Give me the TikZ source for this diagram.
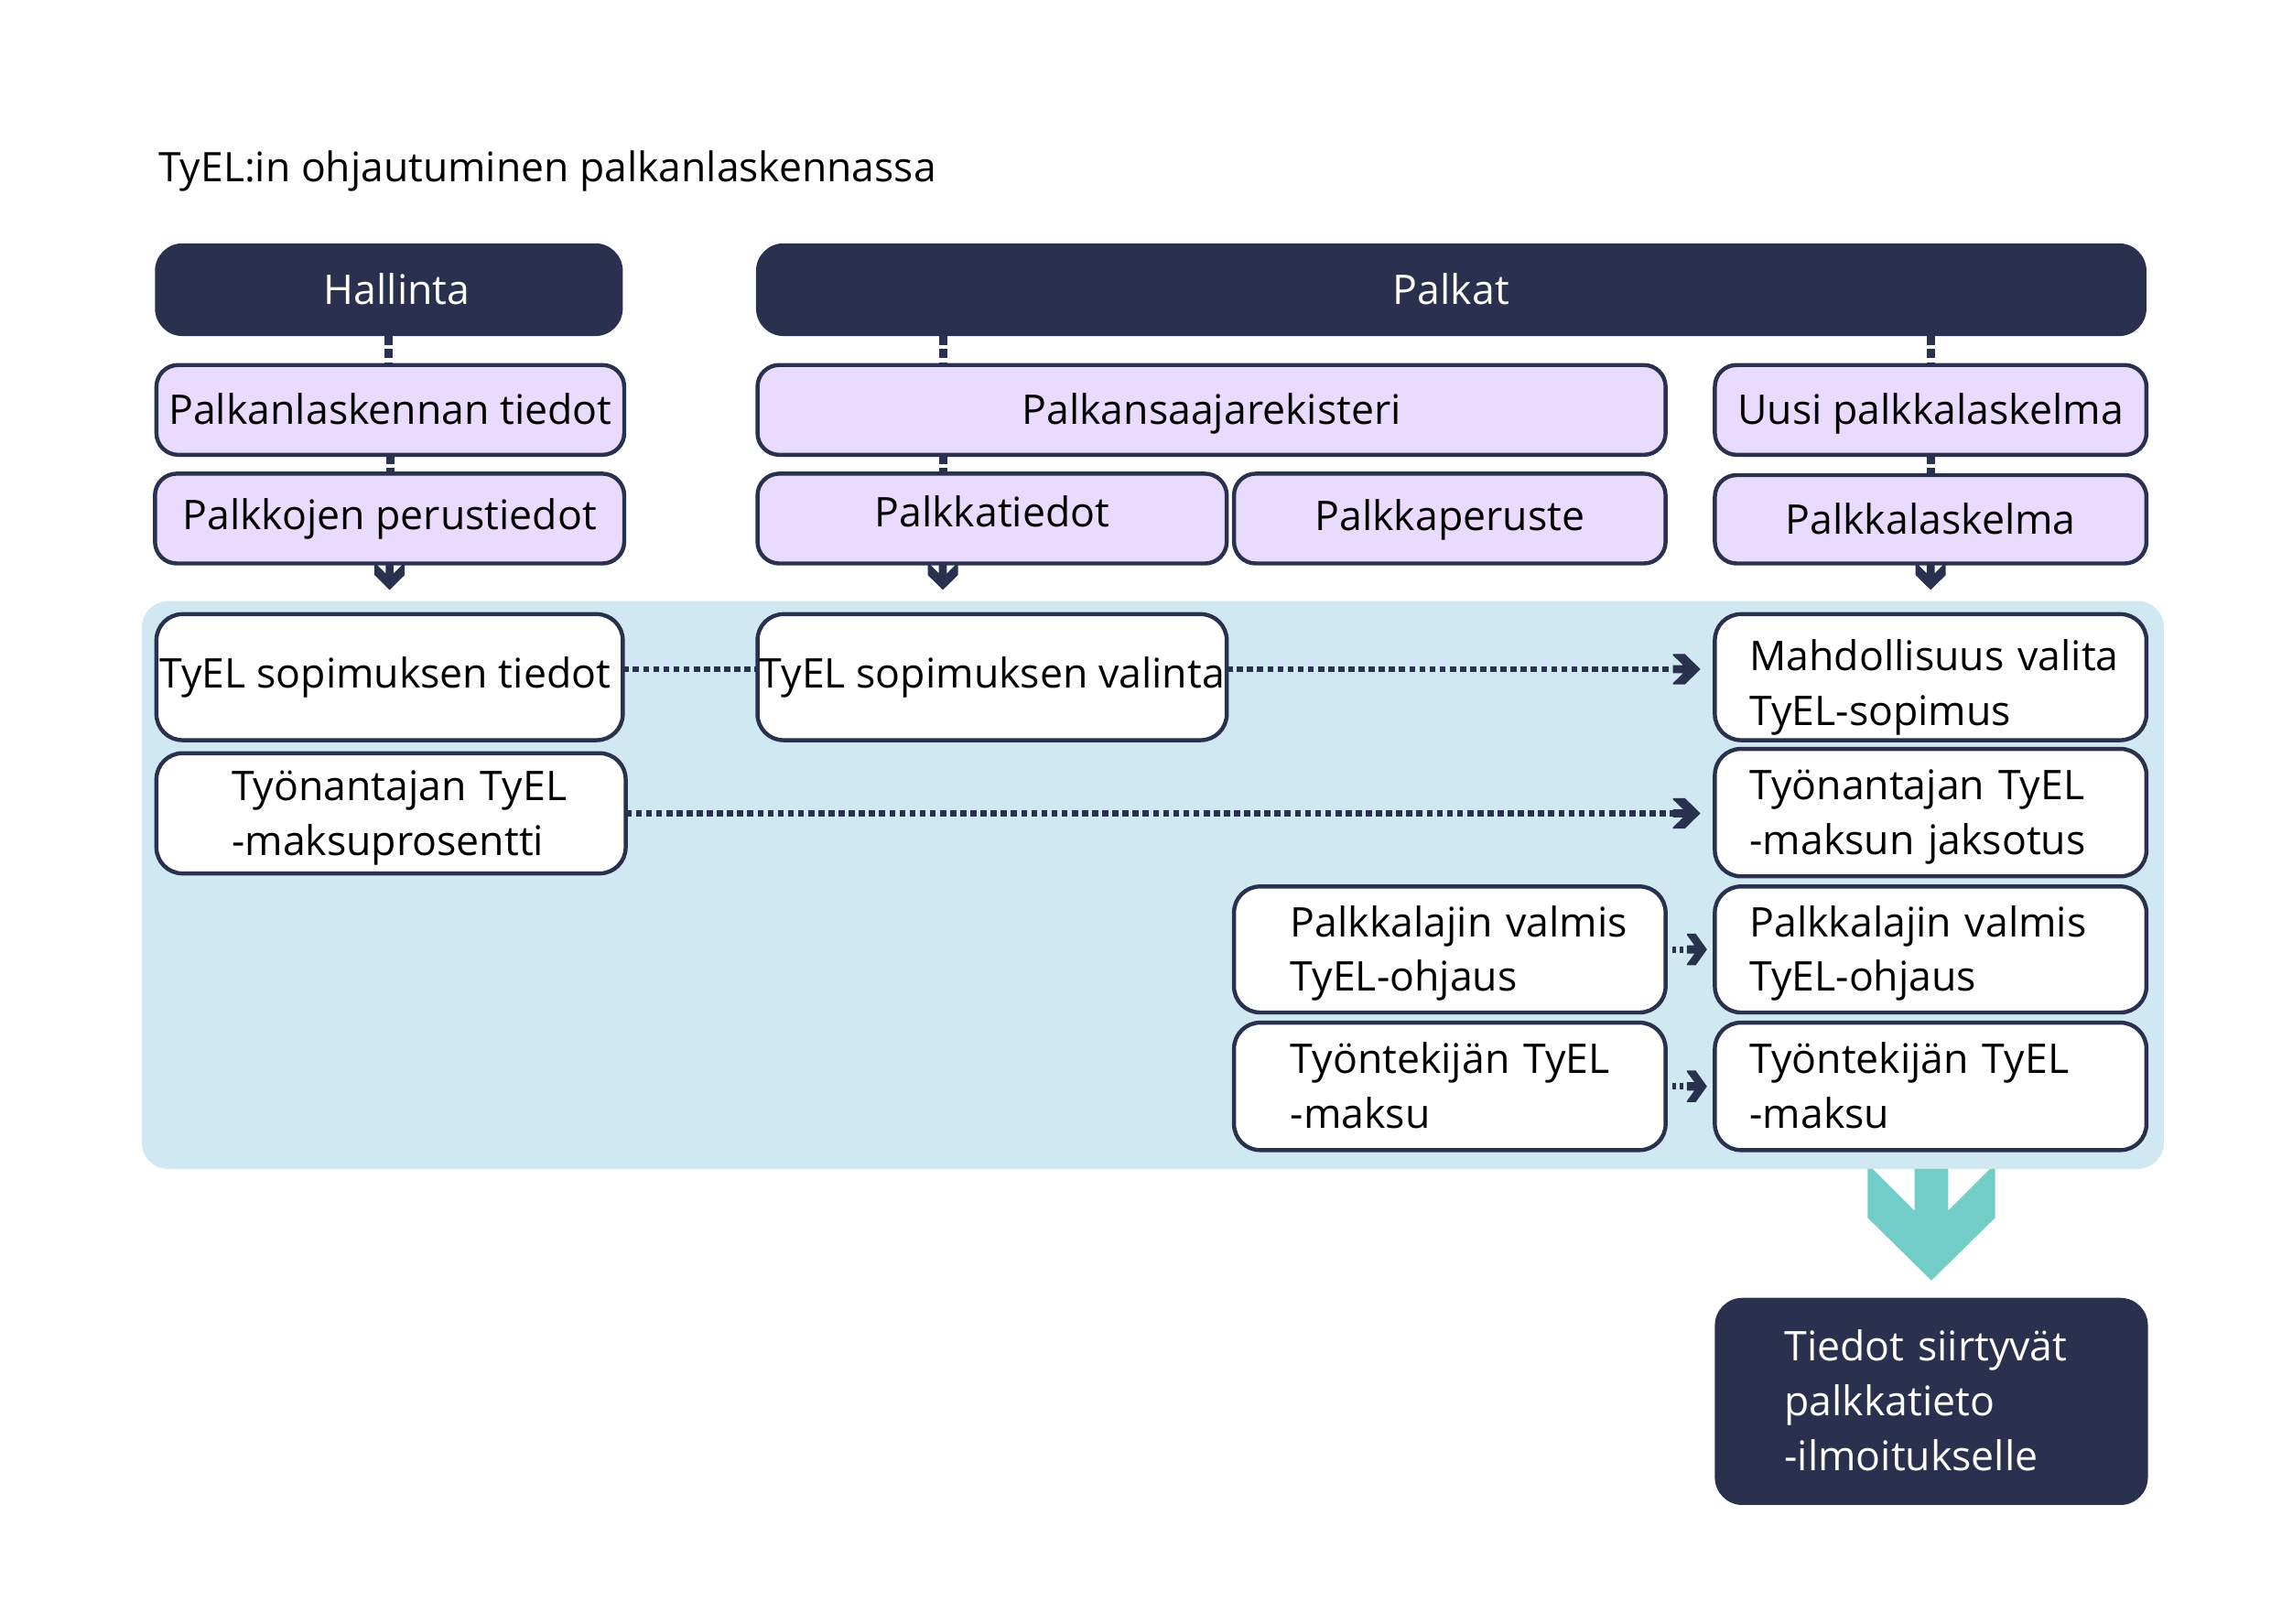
\documentclass[tikz,border=0pt]{standalone}
\usepackage{fontspec}
\setmainfont{Open Sans}
\definecolor{navyc}{HTML}{29314F}
\definecolor{lavc}{HTML}{E8DBFD}
\definecolor{panelc}{HTML}{CFE8F1}
\definecolor{tealc}{HTML}{72CDC8}
\newcommand\boxfont{\fontsize{28.2}{37.8}\selectfont}
\newcommand\titlefont{\fontsize{28.1}{34}\selectfont}
\begin{document}
\begin{tikzpicture}[x=1pt,y=-1pt,
  every node/.style={inner sep=0pt, outer sep=0pt, font=\boxfont},
  one/.style={text height=20.1pt, text depth=#1},
  one/.default=0pt,
  two/.style={text height=20.1pt, text depth=37.8pt},
  three/.style={text height=20.1pt, text depth=75.6pt},
  darkbox/.style={fill=navyc, text=white, rounded corners=19pt},
  lavbox/.style={fill=lavc, draw=navyc, line width=2.8pt, rounded corners=15pt},
  whitebox/.style={fill=white, draw=navyc, line width=2.8pt, rounded corners=18pt},
  vdash/.style={navyc, line width=5.7pt, dash pattern=on 6.3pt off 2.8pt},
  hdot/.style={navyc, line width=4.2pt, dash pattern=on 4.2pt off 2.8pt},
  sdot/.style={navyc, line width=4.2pt, dash pattern=on 2.4pt off 2.6pt},
  chev/.pic={\fill[pic actions] (0,-44) -- (0,-40.5) -- (28.9,-11.6) -- (0,-11.6) -- (0,11.6) -- (28.9,11.6) -- (0,40.5) -- (0,44) -- (33.7,44) -- (77,0) -- (33.7,-44) -- cycle;}
]
\useasboundingbox (0,0) rectangle (1568,1120.6);

\node[anchor=base west, font=\titlefont] (title) at (109.5,125.2) {TyEL:in ohjautuminen palkanlaskennassa};

% light blue panel
\node[fill=panelc, rounded corners=18pt, minimum width=1396pt, minimum height=392pt] (panel) at (796,611) {};

% header boxes
\node[darkbox, one, minimum width=323pt, minimum height=64pt] (hal) at (268.5,200) {\hspace*{11pt}Hallinta};
\node[darkbox, one, minimum width=960pt, minimum height=64pt] (pal) at (1002,200) {Palkat};

% lavender boxes
\node[lavbox, one, minimum width=323pt, minimum height=62pt] (plt) at (269.5,283) {Palkanlaskennan tiedot};
\node[lavbox, one, minimum width=627pt, minimum height=62pt] (prek) at (836.5,283) {Palkansaajarekisteri};
\node[lavbox, one, minimum width=298pt, minimum height=62pt] (upl) at (1333,283) {Uusi palkkalaskelma};
\node[lavbox, one=5.2pt, minimum width=324pt, minimum height=62pt] (ppt) at (269,358) {Palkkojen perustiedot};
\node[lavbox, one=8.4pt, minimum width=324pt, minimum height=62pt] (ptd) at (685,358) {Palkkatiedot};
\node[lavbox, one=4pt, minimum width=298pt, minimum height=62pt] (pkp) at (1001,358) {Palkkaperuste};
\node[lavbox, one, minimum width=298pt, minimum height=61pt] (pl) at (1333,358.5) {Palkkalaskelma};

% white boxes
\node[whitebox, one=5pt, minimum width=322pt, minimum height=87pt] (tst) at (269,467.5) {\hspace*{-6pt}TyEL sopimuksen tiedot};
\node[whitebox, one=5pt, minimum width=324pt, minimum height=87pt] (tsv) at (685,467.5) {TyEL sopimuksen valinta};
\node[whitebox, text height=20.1pt, text depth=28.6pt, minimum height=87pt, text width=250pt, inner xsep=24pt, align=left] (mv) at (1333,467.5) {Mahdollisuus~valita\\TyEL-sopimus};
\node[whitebox, two, minimum height=83pt, text width=220pt, inner xsep=52pt, align=left] (tya) at (270,561.5) {Työnantajan~TyEL\\-maksuprosentti};
\node[whitebox, two, minimum height=88pt, text width=250pt, inner xsep=24pt, align=left] (tyj) at (1333,561) {Työnantajan~TyEL\\-maksun~jaksotus};
\node[whitebox, two, minimum height=87pt, text width=220pt, inner xsep=39pt, align=left] (plv) at (1001,655.5) {Palkkalajin~valmis\\TyEL-ohjaus};
\node[whitebox, two, minimum height=87pt, text width=250pt, inner xsep=24pt, align=left] (plv2) at (1333,655.5) {Palkkalajin~valmis\\TyEL-ohjaus};
\node[whitebox, two, minimum height=88pt, text width=220pt, inner xsep=39pt, align=left] (tte) at (1001,750) {Työntekijän~TyEL\\-maksu};
\node[whitebox, two, minimum height=88pt, text width=250pt, inner xsep=24pt, align=left] (tte2) at (1333,750) {Työntekijän~TyEL\\-maksu};

% final box
\node[darkbox, three, minimum height=143pt, text width=203pt, inner xsep=48pt, align=left] (fin) at (1333.5,967.5) {Tiedot~siirtyvät\\palkkatieto\\-ilmoitukselle};

% vertical dashed connectors
\coordinate (cx) at (651,0);
\draw[vdash] (hal.south) -- (hal.south |- plt.north);
\draw[vdash] (plt.south) -- (plt.south |- ppt.north);
\draw[vdash] (pal.south -| cx) -- (prek.north -| cx);
\draw[vdash] (prek.south -| cx) -- (ptd.north -| cx);
\draw[vdash] (pal.south -| upl.north) -- (upl.north);
\draw[vdash] (upl.south) -- (pl.north);

% down chevrons
\pic[fill=navyc, rotate=-90, scale=0.237] at (ppt.south) {chev};
\pic[fill=navyc, rotate=-90, scale=0.237] at (ptd.south -| cx) {chev};
\pic[fill=navyc, rotate=-90, scale=0.237] at (pl.south) {chev};

% horizontal dotted connectors
\draw[hdot] ([yshift=5.5pt]tst.east) -- ([yshift=5.5pt]tsv.west);
\draw[hdot] ([yshift=5.5pt]tsv.east) -- ([xshift=-29pt,yshift=5.5pt]mv.west);
\pic[fill=navyc, xscale=0.247, yscale=0.239] at ([xshift=-29pt,yshift=5.5pt]mv.west) {chev};
\draw[hdot] (tya.east) -- ([xshift=-29pt]tya.east -| tyj.west);
\pic[fill=navyc, xscale=0.247, yscale=0.239] at ([xshift=-29pt]tya.east -| tyj.west) {chev};
\draw[sdot] ([xshift=4.7pt]plv.east) -- ([xshift=-19.3pt]plv2.west);
\pic[fill=navyc, xscale=0.18, yscale=0.248] at ([xshift=-19.3pt]plv2.west) {chev};
\draw[sdot] ([xshift=4.7pt]tte.east) -- ([xshift=-19.3pt]tte2.west);
\pic[fill=navyc, xscale=0.18, yscale=0.248] at ([xshift=-19.3pt]tte2.west) {chev};

% teal arrow
\pic[fill=tealc, rotate=-90] at (panel.south -| fin.north) {chev};
\end{tikzpicture}
\end{document}
